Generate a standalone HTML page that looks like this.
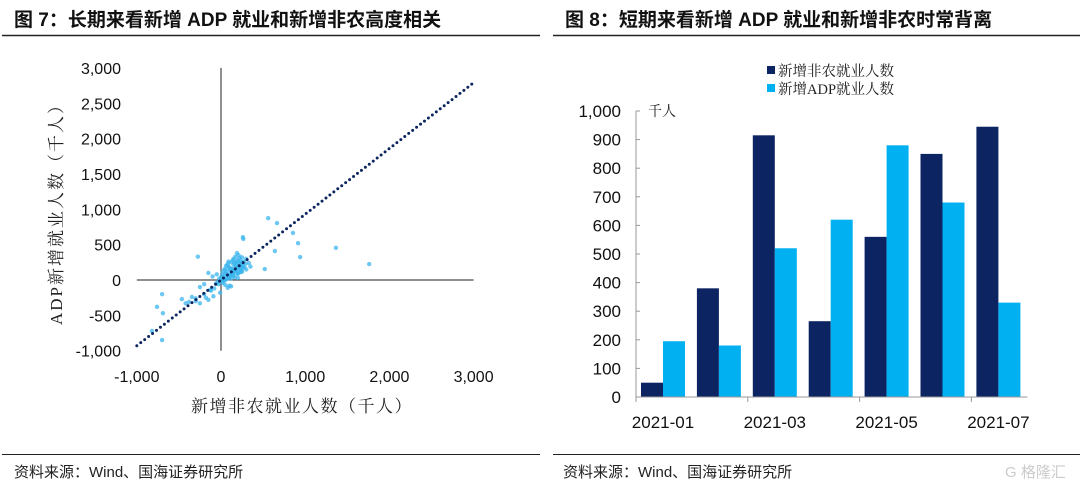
<!DOCTYPE html>
<html><head><meta charset="utf-8">
<style>
body{margin:0;background:#fff;width:1080px;height:489px;overflow:hidden;font-family:"Liberation Sans","Noto Sans CJK SC",sans-serif;}
svg{display:block}
</style></head>
<body>
<svg id="root" width="1080" height="489" viewBox="0 0 1080 489" xmlns="http://www.w3.org/2000/svg">
<text x="14" y="26" font-size="19" font-weight="bold" fill="#111" font-family="Liberation Sans, Noto Sans CJK SC, sans-serif">图 7：长期来看新增 ADP 就业和新增非农高度相关</text>
<text x="565" y="26" font-size="19" font-weight="bold" fill="#111" font-family="Liberation Sans, Noto Sans CJK SC, sans-serif">图 8：短期来看新增 ADP 就业和新增非农时常背离</text>
<line x1="2" y1="35.5" x2="540" y2="35.5" stroke="#222" stroke-width="1.6"/>
<line x1="553" y1="35.5" x2="1080" y2="35.5" stroke="#222" stroke-width="1.6"/>
<line x1="2" y1="454.5" x2="540" y2="454.5" stroke="#222" stroke-width="1"/>
<line x1="553" y1="454.5" x2="1080" y2="454.5" stroke="#222" stroke-width="1"/>
<text x="14" y="477" font-size="15" fill="#222">资料来源：Wind、国海证券研究所</text>
<text x="563" y="477" font-size="15" fill="#222">资料来源：Wind、国海证券研究所</text>
<text x="1005" y="477" font-size="15" fill="#ccc">G 格隆汇</text>
<g id="scatter"></g>
<g id="bars"></g>
</svg>
<script>
const NS="http://www.w3.org/2000/svg";
function mk(tag,attrs,parent,text){const e=document.createElementNS(NS,tag);for(const k in attrs)e.setAttribute(k,attrs[k]);if(text!==undefined)e.textContent=text;parent.appendChild(e);return e;}

// ---- Scatter data (thousands) ----
const scatterX=[560,665,855,915,940,1365,1760,520,640,260,265,-275,-700,-760,-690,-465,-820,-700,-345,
-120,-80,-60,-40,-20,0,10,20,30,40,50,60,70,80,90,100,110,120,130,140,150,160,170,180,190,200,210,220,230,240,250,
-150,-200,-250,-300,-180,-100,-50,20,60,100,150,200,250,300,120,80,40,10,-30,170,210,280,330,190,140,90,60,30,160,230,
-380,-420,-300,-250,-200,-150,-130,-90,50,120,200,260,300,350,80,150,-10,100,180,240,
110,130,150,170,190,210,230,250,270,290,70,90,110,130,150,170,190,210,230,250,50,80,100,140,180,220,260,200,160,120];
const scatterY=[875,805,665,520,325,455,225,155,410,605,580,330,-200,-380,-470,-270,-720,-850,-240,
-150,-120,-50,-30,20,30,60,110,40,80,150,90,120,200,70,180,140,250,160,100,220,130,190,260,170,90,240,310,180,150,210,
100,-60,-100,-300,-250,50,80,-40,10,-80,60,30,120,300,-90,-110,150,-10,-60,330,350,180,240,380,280,260,200,-20,40,110,
-310,-330,-260,-330,-200,-280,-140,-230,-70,20,90,170,150,190,230,300,-180,160,230,120,
60,90,120,150,170,200,220,250,260,230,30,60,80,100,130,140,160,190,270,320,0,20,40,70,110,130,200,280,240,160];
const trendX=[-1000,3000];
const trendSlope=[0.93];
const sxTicks=[-1000,0,1000,2000,3000];
const syTicks=[-1000,-500,0,500,1000,1500,2000,2500,3000];

const sx=v=>221+v*0.0842;
const sy=v=>280-v*0.0707;
const sc=document.getElementById('scatter');
const fmt=v=>v.toLocaleString('en-US');
syTicks.forEach(t=>{const e=mk('text',{x:121,y:sy(t)+6,'font-size':16,'text-anchor':'end',fill:'#111'},sc,fmt(t));

});
sxTicks.forEach(t=>{const e=mk('text',{x:sx(t),y:382,'font-size':16,'text-anchor':'middle',fill:'#111'},sc,fmt(t));

});
let a=mk('line',{x1:sx(-1000),y1:sy(0),x2:sx(3000),y2:sy(0),stroke:'#222','stroke-width':1},sc);


a=mk('line',{x1:sx(0),y1:sy(3000),x2:sx(0),y2:sy(-1000),stroke:'#222','stroke-width':1},sc);


scatterX.forEach((x,i)=>{const c=mk('circle',{cx:sx(x),cy:sy(scatterY[i]),r:2.2,fill:'#3bb6ee','fill-opacity':0.75},sc);

});
a=mk('line',{x1:sx(trendX[0]),y1:sy(trendX[0]*trendSlope[0]),x2:sx(trendX[1]),y2:sy(trendX[1]*trendSlope[0]),stroke:'#0d2660','stroke-width':3,'stroke-dasharray':'0 5','stroke-linecap':'round'},sc);


a=mk('text',{x:302,y:412,'font-size':17,'letter-spacing':'1.5','text-anchor':'middle',fill:'#222','font-family':'Liberation Serif, Noto Serif CJK SC, serif'},sc,'新增非农就业人数（千人）');


a=mk('text',{x:0,y:0,'font-size':17,'letter-spacing':'2','text-anchor':'middle',fill:'#222','font-family':'Liberation Serif, Noto Serif CJK SC, serif',transform:'translate(62,210) rotate(-90)'},sc,'ADP新增就业人数（千人）');



// ---- Bar data ----
const months=['2021-01','2021-02','2021-03','2021-04','2021-05','2021-06','2021-07'];
const nfp=[50,380,915,265,560,850,945];
const adp=[195,180,520,620,880,680,330];
const byTicks=[0,100,200,300,400,500,600,700,800,900,1000];
const bg=document.getElementById('bars');
const bx0=636,gw=55.9,bw=22;
const by=v=>397-v*0.286;
byTicks.forEach(t=>{const e=mk('text',{x:621,y:by(t)+6,'font-size':17,'text-anchor':'end',fill:'#111'},bg,fmt(t));


const l=mk('line',{x1:bx0,y1:by(t),x2:bx0+4,y2:by(t),stroke:'#999'},bg);

});
months.forEach((m,i)=>{
 const x=bx0+i*gw+5;
 let r=mk('rect',{x:x,y:by(nfp[i]),width:bw,height:by(0)-by(nfp[i]),fill:'#0c2461'},bg);
 
 
 r=mk('rect',{x:x+bw,y:by(adp[i]),width:bw,height:by(0)-by(adp[i]),fill:'#00b0f0'},bg);
 
 
 if(i%2===0){const t=mk('text',{x:x+bw,y:428,'font-size':17,'text-anchor':'middle',fill:'#111'},bg,m);
 
 
 const l=mk('line',{x1:bx0+i*gw,y1:by(0),x2:bx0+i*gw,y2:by(0)+5,stroke:'#999'},bg);
 
 }
});
a=mk('line',{x1:bx0,y1:by(0),x2:bx0+7*gw,y2:by(0),stroke:'#999'},bg);


a=mk('line',{x1:bx0,y1:by(1000),x2:bx0,y2:by(0),stroke:'#999'},bg);


a=mk('text',{x:648,y:116,'font-size':14,fill:'#222','font-family':'Liberation Serif, Noto Serif CJK SC, serif'},bg,'千人');


a=mk('rect',{x:767,y:66,width:8,height:8,fill:'#0c2461'},bg);


a=mk('text',{x:778,y:76,'font-size':14.5,fill:'#222','font-family':'Liberation Serif, Noto Serif CJK SC, serif'},bg,'新增非农就业人数');


a=mk('rect',{x:767,y:84,width:8,height:8,fill:'#00b0f0'},bg);


a=mk('text',{x:778,y:94,'font-size':14.5,fill:'#222','font-family':'Liberation Serif, Noto Serif CJK SC, serif'},bg,'新增ADP就业人数');


</script>
</body></html>
